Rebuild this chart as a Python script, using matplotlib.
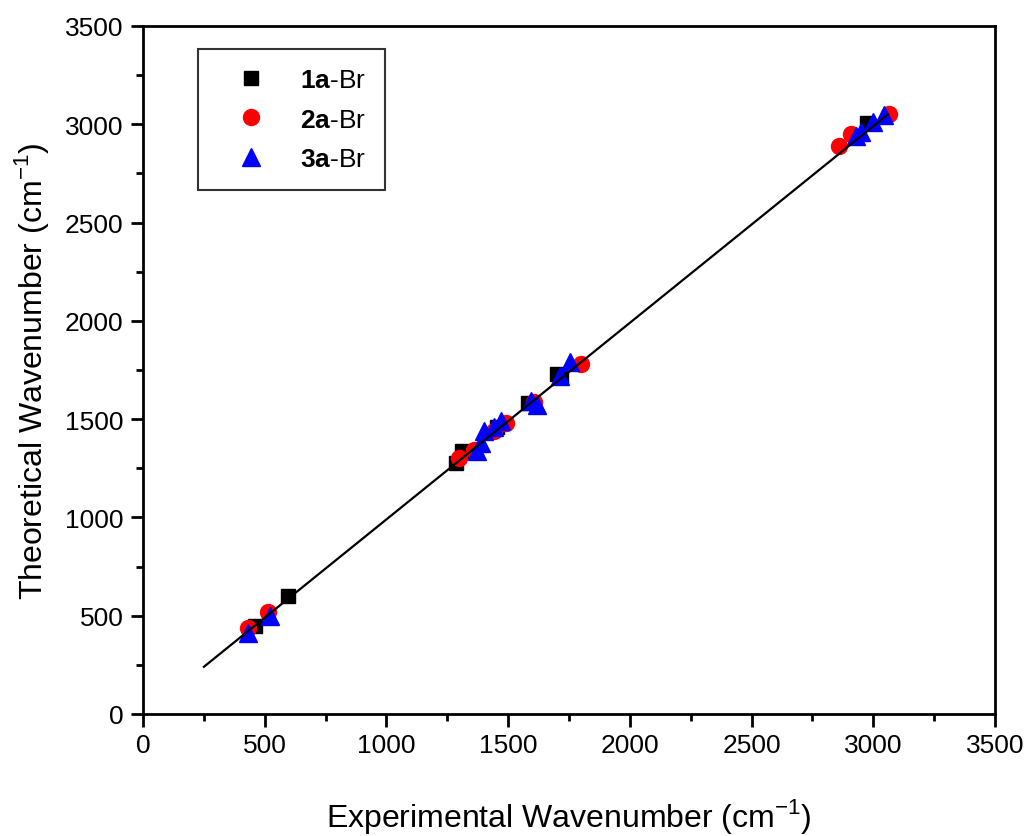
import matplotlib
matplotlib.use("Agg")
import matplotlib.pyplot as plt
from matplotlib.ticker import MultipleLocator

plt.rcParams['font.family'] = ['Liberation Sans', 'DejaVu Sans']
plt.rcParams['mathtext.fontset'] = 'custom'
plt.rcParams['mathtext.rm'] = 'Liberation Sans'
plt.rcParams['mathtext.bf'] = 'Liberation Sans:bold'

# 1a-Br (squares)
exp_1a = [460, 595, 1285, 1310, 1455, 1580, 1700, 1715, 2975]
theo_1a = [445, 598, 1275, 1340, 1460, 1580, 1728, 1720, 3005]
# 2a-Br (circles)
exp_2a = [430, 515, 1300, 1360, 1440, 1490, 1605, 1800, 2860, 2910, 3065]
theo_2a = [435, 520, 1300, 1345, 1440, 1480, 1585, 1780, 2890, 2950, 3050]
# 3a-Br (triangles)
exp_3a = [430, 520, 1370, 1390, 1400, 1440, 1470, 1595, 1620, 1712, 1755, 2930, 2950, 3000, 3045]
theo_3a = [410, 500, 1340, 1380, 1440, 1460, 1490, 1590, 1570, 1720, 1790, 2940, 2960, 3010, 3045]
# linear fit line
fit_x = [250, 3060]
fit_y = [240, 3050]

xticks = [0, 500, 1000, 1500, 2000, 2500, 3000, 3500]
yticks = [0, 500, 1000, 1500, 2000, 2500, 3000, 3500]

fig = plt.figure(figsize=(10.29, 8.37), dpi=100)
ax = fig.add_axes([0.139, 0.1458, 0.828, 0.822])

ax.plot(exp_1a, theo_1a, 's', color='black', markersize=10.5, label=r'$\mathbf{1a}$-Br', zorder=3)
ax.plot(exp_2a, theo_2a, 'o', color='red', markersize=11.5, label=r'$\mathbf{2a}$-Br', zorder=3)
ax.plot(exp_3a, theo_3a, '^', color='blue', markersize=12.5, label=r'$\mathbf{3a}$-Br', zorder=3)
ax.plot(fit_x, fit_y, '-', color='black', linewidth=1.6, zorder=4)

ax.set_xlim(0, 3500)
ax.set_ylim(0, 3500)
ax.set_xticks(xticks)
ax.set_yticks(yticks)
ax.xaxis.set_minor_locator(MultipleLocator(250))
ax.yaxis.set_minor_locator(MultipleLocator(250))
ax.tick_params(which='both', direction='out', top=False, right=False, width=2, labelsize=19)
ax.tick_params(which='major', length=9, pad=5)
ax.tick_params(which='minor', length=5)
for s in ax.spines.values():
    s.set_linewidth(2)

ax.set_xlabel(r'Experimental Wavenumber (cm$^{-1}$)', fontsize=23, labelpad=28)
ax.set_ylabel(r'Theoretical Wavenumber (cm$^{-1}$)', fontsize=23, labelpad=10)

leg = ax.legend(loc='upper left', bbox_to_anchor=(0.065, 0.966), fontsize=19, frameon=True,
                fancybox=False, edgecolor='black', handletextpad=0.55, borderpad=0.7,
                labelspacing=0.6, borderaxespad=0, handlelength=2.6)
leg.get_frame().set_linewidth(1.5)

fig.savefig('out.png', dpi=100, facecolor='white')
